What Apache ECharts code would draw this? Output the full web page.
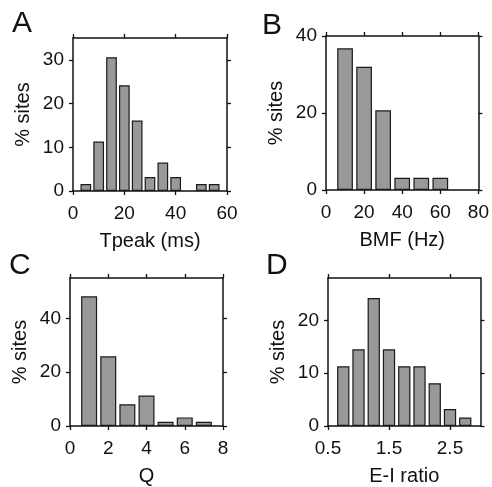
<!DOCTYPE html>
<html>
<head>
<meta charset="utf-8">
<script src="https://cdn.jsdelivr.net/npm/echarts@6/dist/echarts.min.js"></script>
<style>
html,body{margin:0;padding:0;background:#fff;}
#c{width:492px;height:487px;}
</style>
</head>
<body>
<div id="c"></div>
<script>
// Panel A: Tpeak (ms)
const tpeakBins = [5, 10, 15, 20, 25, 30, 35, 40, 50, 55];
const tpeakPct = [1.6, 11.3, 30.6, 24.2, 16.1, 3.2, 6.5, 3.2, 1.6, 1.6];
const tpeakTicks = [0, 20, 40, 60];
const tpeakYTicks = [0, 10, 20, 30];
// Panel B: BMF (Hz)
const bmfBins = [10, 20, 30, 40, 50, 60];
const bmfPct = [36.8, 32.0, 20.7, 3.2, 3.2, 3.2];
const bmfTicks = [0, 20, 40, 60, 80];
const bmfYTicks = [0, 20, 40];
// Panel C: Q
const qBins = [1, 2, 3, 4, 5, 6, 7];
const qPct = [48.2, 25.9, 8.1, 11.3, 1.6, 3.2, 1.6];
const qTicks = [0, 2, 4, 6, 8];
const qYTicks = [0, 20, 40];
// Panel D: E-I ratio
const eiBins = [0.75, 1.0, 1.25, 1.5, 1.75, 2.0, 2.25, 2.5, 2.75];
const eiPct = [11.3, 14.5, 24.2, 14.5, 11.3, 11.3, 8.1, 3.2, 1.6];
const eiTicks = [0.5, 1.5, 2.5];
const eiYTicks = [0, 10, 20];

const FONT = '"Liberation Sans", Arial, Helvetica, sans-serif';
const INK = '#111';

const panels = [
  {letter:'A', xName:'Tpeak (ms)', bins:tpeakBins, pct:tpeakPct, xt:tpeakTicks, yt:tpeakYTicks,
   xmin:0, xmax:60, ymax:35, grid:{left:73, top:38, width:154, height:153}, bw:10.7, lx:12, ly:9},
  {letter:'B', xName:'BMF (Hz)', bins:bmfBins, pct:bmfPct, xt:bmfTicks, yt:bmfYTicks,
   xmin:0, xmax:80, ymax:40, grid:{left:326, top:36, width:158, height:154}, bw:15.7, lx:262, ly:11},
  {letter:'C', xName:'Q', bins:qBins, pct:qPct, xt:qTicks, yt:qYTicks,
   xmin:0, xmax:8, ymax:55, grid:{left:70, top:278, width:153, height:153}, bw:16, lx:9, ly:250.5},
  {letter:'D', xName:'E-I ratio', bins:eiBins, pct:eiPct, xt:eiTicks, yt:eiYTicks,
   xmin:0.5, xmax:3, ymax:28, grid:{left:328, top:278, width:152.5, height:153}, bw:12.3, lx:266, ly:251}
];

const grid = [], xAxis = [], yAxis = [], series = [], title = [];
panels.forEach((p, i) => {
  grid.push(Object.assign({containLabel:false}, p.grid));
  const line = {show:true, onZero:false, lineStyle:{color:INK, width:1.5}};
  const tickStyle = {lineStyle:{color:INK, width:1.3}};
  xAxis.push({
    type:'value', gridIndex:i, position:'bottom', min:p.xmin, max:p.xmax,
    axisLine:line, splitLine:{show:false},
    axisTick:Object.assign({show:true, inside:false, length:4, customValues:p.xt}, tickStyle),
    axisLabel:{customValues:p.xt, color:INK, fontSize:19, fontFamily:FONT, margin:13},
    name:p.xName, nameLocation:'middle', nameGap:40,
    nameTextStyle:{color:INK, fontSize:20, fontFamily:FONT}
  });
  xAxis.push({
    type:'value', gridIndex:i, position:'top', min:p.xmin, max:p.xmax,
    axisLine:line, splitLine:{show:false},
    axisTick:Object.assign({show:true, inside:false, length:4, customValues:p.xt}, tickStyle),
    axisLabel:{show:false}
  });
  yAxis.push({
    type:'value', gridIndex:i, position:'left', min:0, max:p.ymax,
    axisLine:line, splitLine:{show:false},
    axisTick:Object.assign({show:true, inside:false, length:4, customValues:p.yt}, tickStyle),
    axisLabel:{customValues:p.yt, color:INK, fontSize:19, fontFamily:FONT, margin:9},
    name:'% sites', nameLocation:'middle', nameGap:40,
    nameTextStyle:{color:INK, fontSize:20, fontFamily:FONT}
  });
  yAxis.push({
    type:'value', gridIndex:i, position:'right', min:0, max:p.ymax,
    axisLine:line, splitLine:{show:false},
    axisTick:Object.assign({show:true, inside:false, length:4, customValues:p.yt}, tickStyle),
    axisLabel:{show:false}
  });
  series.push({
    type:'bar', xAxisIndex:2*i, yAxisIndex:2*i, barWidth:p.bw,
    data:p.bins.map((b, k) => [b, p.pct[k]]),
    itemStyle:{color:'#999999', borderColor:'#1a1a1a', borderWidth:1.2},
    silent:true, animation:false
  });
  title.push({text:p.letter, left:p.lx, top:p.ly, padding:0,
    textStyle:{color:INK, fontSize:30, fontWeight:'normal', fontFamily:FONT}});
});

const chart = echarts.init(document.getElementById('c'), null, {renderer:'canvas'});
chart.setOption({animation:false, backgroundColor:'#fff', title, grid, xAxis, yAxis, series});
</script>
</body>
</html>
